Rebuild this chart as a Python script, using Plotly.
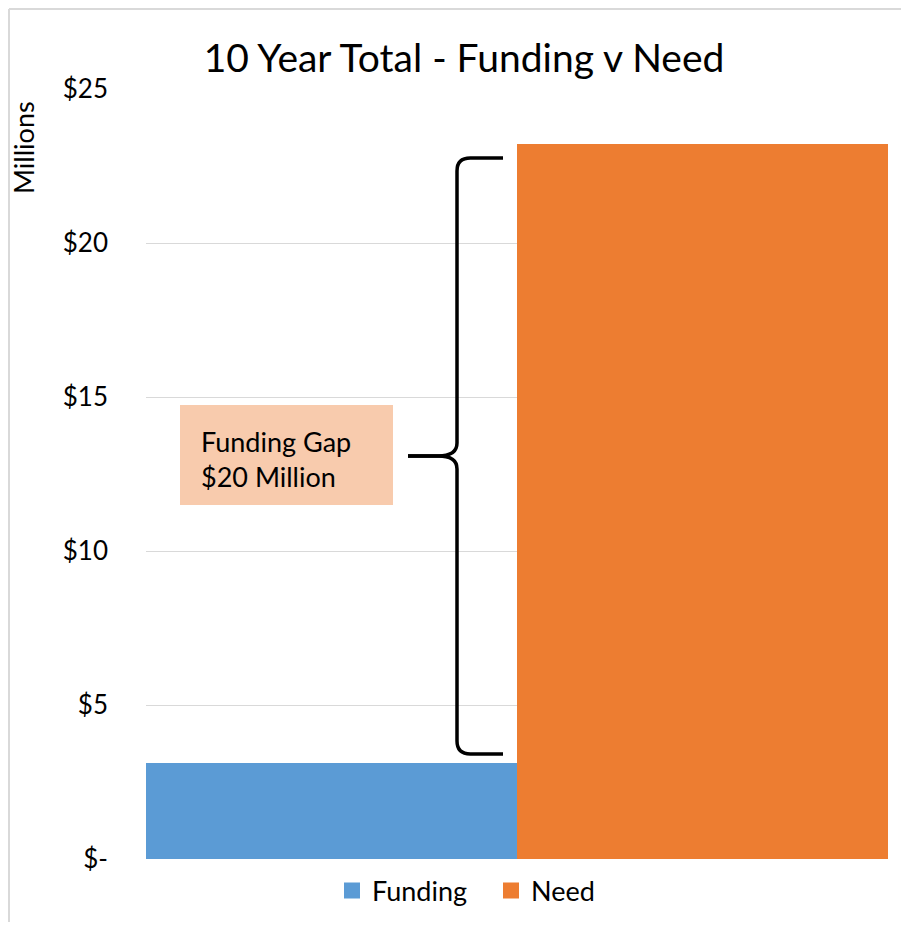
import plotly.graph_objects as go

# ---- data ----
series_names = ["Funding", "Need"]
series_values = [3.12, 23.21]          # $ millions
series_colors = ["#5B9BD5", "#ED7D31"]
category = ["10 Year Total"]
tick_values = [0, 5, 10, 15, 20, 25]
tick_labels = ["$-", "$5", "$10", "$15", "$20", "$25"]
gap_label = "Funding Gap<br>$20 Million"

FONT = "Lato"

fig = go.Figure()
for name, val, col in zip(series_names, series_values, series_colors):
    fig.add_trace(go.Bar(x=category, y=[val], name=name, showlegend=False,
                         marker=dict(color=col, line=dict(width=0))))
# legend entries (larger square swatches)
for name, col in zip(series_names, series_colors):
    fig.add_trace(go.Scatter(x=[None], y=[None], mode="markers", name=name,
                             marker=dict(symbol="square", size=16, color=col, line=dict(width=0))))

# layout geometry (figure px; the page adds an 8px body margin)
OFF = 8
W, H = 893, 914
ml, mr, mt, mb = 138, 13, 81, 63
pw = W - ml - mr
ph = H - mt - mb

def px_x(p):          # screen x -> paper x
    return (p - OFF - ml) / pw

def px_y(p):          # screen y -> paper y
    return (H - mb - (p - OFF)) / ph

funding, need = series_values
top = need - 0.45
bot = funding + 0.29
mid = (top + bot) / 2
xa, xv, xt = px_x(503), px_x(457), px_x(408)
rx, ry = 0.018, 0.42
upper = (f"M{xa},{top} L{xv+rx},{top} Q{xv},{top} {xv},{top-ry} "
         f"L{xv},{mid+ry} Q{xv},{mid} {xv-rx*1.4},{mid} L{xt},{mid}")
lower = (f"M{xt},{mid} L{xv-rx*1.4},{mid} Q{xv},{mid} {xv},{mid-ry} "
         f"L{xv},{bot+ry} Q{xv},{bot} {xv+rx},{bot} L{xa},{bot}")

shapes = [
    dict(type="path", xref="paper", yref="y", path=upper, line=dict(color="black", width=3.5)),
    dict(type="path", xref="paper", yref="y", path=lower, line=dict(color="black", width=3.5)),
    dict(type="rect", xref="paper", yref="paper",
         x0=px_x(180), x1=px_x(393), y0=px_y(505), y1=px_y(405),
         fillcolor="#F8CBAD", line=dict(width=0), layer="above"),
    dict(type="line", xref="paper", yref="paper",
         x0=px_x(OFF + 1), x1=px_x(OFF + 1), y0=px_y(1000), y1=px_y(OFF + 1),
         line=dict(color="#D9D9D9", width=2)),
    dict(type="line", xref="paper", yref="paper",
         x0=px_x(OFF + 1), x1=px_x(1000), y0=px_y(OFF + 1), y1=px_y(OFF + 1),
         line=dict(color="#D9D9D9", width=2)),
]

annotations = [
    dict(text=gap_label, xref="paper", yref="paper", x=px_x(199), y=px_y(459),
         xanchor="left", yanchor="middle", align="left", showarrow=False,
         font=dict(family=FONT, size=27, color="black")),
    dict(text="Millions", xref="paper", yref="paper", x=px_x(24), y=px_y(148),
         xanchor="center", yanchor="middle", textangle=-90, showarrow=False,
         font=dict(family=FONT, size=27, color="black")),
]

fig.update_layout(
    width=W, height=H,
    margin=dict(l=ml, r=mr, t=mt, b=mb, autoexpand=False),
    paper_bgcolor="white", plot_bgcolor="white",
    barmode="group", bargap=0, bargroupgap=0,
    title=dict(text="10 Year Total - Funding v Need", x=px_x(464), xref="paper", xanchor="center",
               y=1 - (58 - OFF) / H, yanchor="middle",
               font=dict(family=FONT, size=39, color="black")),
    font=dict(family=FONT, color="black"),
    legend=dict(orientation="h", x=px_x(332), xanchor="left", y=px_y(891), yanchor="middle",
                font=dict(family=FONT, size=27, color="black"), itemwidth=30,
                entrywidth=114, entrywidthmode="pixels",
                bgcolor="rgba(0,0,0,0)"),
    shapes=shapes,
    annotations=annotations,
)
fig.update_xaxes(showticklabels=False, showgrid=False, zeroline=False, showline=False, ticks="")
fig.update_yaxes(range=[0, 25], tickvals=tick_values, ticktext=tick_labels,
                 showgrid=True, gridcolor="#D9D9D9", gridwidth=1.3, zeroline=False,
                 showline=False, ticks="", ticklabelstandoff=37,
                 tickfont=dict(family=FONT, size=26, color="black"))

fig.write_html("out.html")
